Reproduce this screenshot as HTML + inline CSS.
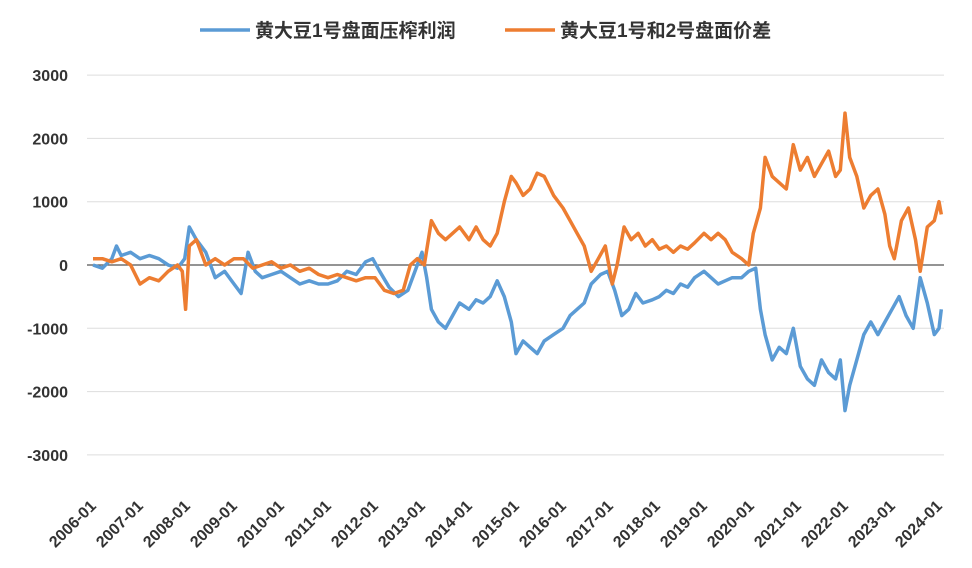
<!DOCTYPE html>
<html><head><meta charset="utf-8"><style>
body{margin:0;background:#fff}
svg text{font-family:"Liberation Sans","Noto Sans CJK SC",sans-serif;}
</style></head><body>
<svg width="972" height="563" id="c"></svg>
<script>
const yTicks=[3000,2000,1000,0,-1000,-2000,-3000];
const xLabels=["2006-01","2007-01","2008-01","2009-01","2010-01","2011-01","2012-01","2013-01","2014-01","2015-01","2016-01","2017-01","2018-01","2019-01","2020-01","2021-01","2022-01","2023-01","2024-01"];
const blueT=[2006,2006.2,2006.4,2006.5,2006.6,2006.8,2007,2007.2,2007.4,2007.6,2007.8,2007.95,2008.05,2008.2,2008.4,2008.6,2008.8,2009,2009.15,2009.3,2009.45,2009.6,2009.8,2010,2010.2,2010.4,2010.6,2010.8,2011,2011.2,2011.4,2011.6,2011.8,2011.95,2012.1,2012.3,2012.5,2012.7,2012.9,2013.0,2013.1,2013.2,2013.35,2013.5,2013.65,2013.8,2014,2014.15,2014.3,2014.45,2014.6,2014.75,2014.9,2015.0,2015.15,2015.3,2015.45,2015.6,2015.8,2016,2016.15,2016.3,2016.45,2016.6,2016.8,2016.95,2017.1,2017.25,2017.4,2017.55,2017.7,2017.9,2018.05,2018.2,2018.35,2018.5,2018.65,2018.8,2019,2019.15,2019.3,2019.45,2019.6,2019.8,2019.95,2020.1,2020.2,2020.3,2020.45,2020.6,2020.75,2020.9,2021.05,2021.2,2021.35,2021.5,2021.65,2021.8,2021.9,2022.0,2022.1,2022.25,2022.4,2022.55,2022.7,2022.85,2023.0,2023.15,2023.3,2023.45,2023.6,2023.75,2023.9,2024.0,2024.05];
const blueV=[0,-50,100,300,150,200,100,150,100,0,-50,100,600,400,200,-200,-100,-300,-450,200,-100,-200,-150,-100,-200,-300,-250,-300,-300,-250,-100,-150,50,100,-100,-350,-500,-400,0,200,-200,-700,-900,-1000,-800,-600,-700,-550,-600,-500,-250,-500,-900,-1400,-1200,-1300,-1400,-1200,-1100,-1000,-800,-700,-600,-300,-150,-100,-400,-800,-700,-450,-600,-550,-500,-400,-450,-300,-350,-200,-100,-200,-300,-250,-200,-200,-100,-50,-700,-1100,-1500,-1300,-1400,-1000,-1600,-1800,-1900,-1500,-1700,-1800,-1500,-2300,-1900,-1500,-1100,-900,-1100,-900,-700,-500,-800,-1000,-200,-600,-1100,-1000,-700];
const orangeT=[2006,2006.2,2006.4,2006.6,2006.8,2007,2007.2,2007.4,2007.6,2007.8,2007.9,2007.97,2008.05,2008.2,2008.4,2008.6,2008.8,2009,2009.2,2009.4,2009.6,2009.8,2010,2010.2,2010.4,2010.6,2010.8,2011,2011.2,2011.4,2011.6,2011.8,2012,2012.2,2012.4,2012.6,2012.75,2012.9,2013.05,2013.2,2013.35,2013.5,2013.65,2013.8,2014,2014.15,2014.3,2014.45,2014.6,2014.75,2014.9,2015.0,2015.15,2015.3,2015.45,2015.6,2015.8,2016,2016.15,2016.3,2016.45,2016.6,2016.75,2016.9,2017.05,2017.15,2017.3,2017.45,2017.6,2017.75,2017.9,2018.05,2018.2,2018.35,2018.5,2018.65,2018.8,2019,2019.15,2019.3,2019.45,2019.6,2019.8,2019.95,2020.05,2020.2,2020.3,2020.45,2020.6,2020.75,2020.9,2021.05,2021.2,2021.35,2021.5,2021.65,2021.8,2021.9,2022.0,2022.1,2022.25,2022.4,2022.55,2022.7,2022.85,2022.95,2023.05,2023.2,2023.35,2023.5,2023.6,2023.75,2023.9,2024.0,2024.05];
const orangeV=[100,100,50,100,0,-300,-200,-250,-100,0,-100,-700,300,400,0,100,0,100,100,-50,0,50,-50,0,-100,-50,-150,-200,-150,-200,-250,-200,-200,-400,-450,-400,0,100,0,700,500,400,500,600,400,600,400,300,500,1000,1400,1300,1100,1200,1450,1400,1100,900,700,500,300,-100,100,300,-300,0,600,400,500,300,400,250,300,200,300,250,350,500,400,500,400,200,100,0,500,900,1700,1400,1300,1200,1900,1500,1700,1400,1600,1800,1400,1500,2400,1700,1400,900,1100,1200,800,300,100,700,900,400,-100,600,700,1000,800];
const svg=document.getElementById('c');const NS='http://www.w3.org/2000/svg';
const L=87,R=944,x0=93,dx=47;
function X(t){return x0+(t-2006)*dx;}
function Y(v){return 265-v*0.0633;}
function mk(tag,attrs,parent){const e=document.createElementNS(NS,tag);for(const k in attrs)e.setAttribute(k,attrs[k]);(parent||svg).appendChild(e);return e;}
yTicks.forEach(v=>{
 const g=mk('line',{x1:L,x2:R,y1:Y(v),y2:Y(v),stroke:v===0?'#555':'#ddd','stroke-width':v===0?1.3:1});
 
 
 const t=mk('text',{x:68,y:Y(v)+6,'text-anchor':'end','font-size':16,'font-weight':'bold',fill:'#333'});
 t.textContent=v;
 
 
});
xLabels.forEach((s,i)=>{
 const px=x0+i*dx;
 const t=mk('text',{x:0,y:0,'text-anchor':'end','font-size':16,'font-weight':'bold',fill:'#333',transform:`translate(${px+4},${Y(-3000)+52}) rotate(-45)`});
 t.textContent=s;
 
 
});
function line(T,V,col,name){
 const d=T.map((t,i)=>(i?'L':'M')+X(t).toFixed(1)+','+Y(V[i]).toFixed(1)).join('');
 const p=mk('path',{d:d,fill:'none',stroke:col,'stroke-width':3.5,'stroke-linejoin':'round'});
 
 
}
line(blueT,blueV,'#5B9BD5','series-crush-profit');
line(orangeT,orangeV,'#ED7D31','series-spread');
const legend=[['黄大豆1号盘面压榨利润','#5B9BD5',200],['黄大豆1号和2号盘面价差','#ED7D31',505]];
legend.forEach(l=>{
 const g=mk('g',{});
 
 
 mk('line',{x1:l[2],x2:l[2]+50,y1:30,y2:30,stroke:l[1],'stroke-width':3.5},g);
 const t=mk('text',{x:l[2]+55,y:37,'font-size':19,'font-weight':'bold',fill:'#333'},g);t.textContent=l[0];
});
</script>
</body></html>
